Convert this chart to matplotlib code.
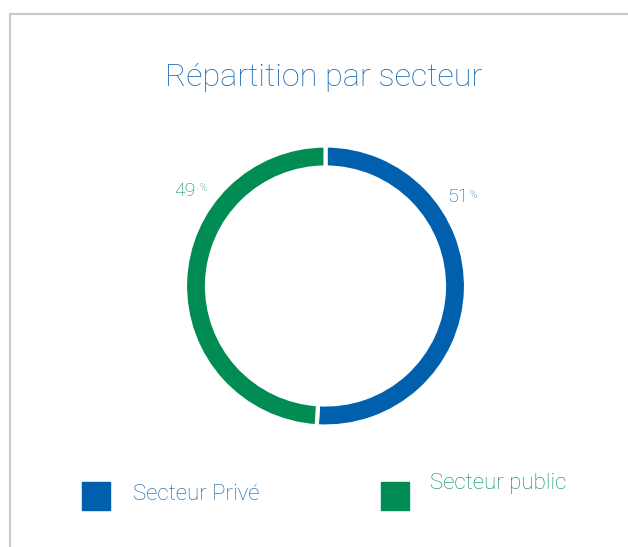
import matplotlib.pyplot as plt
from matplotlib.patches import Rectangle
from matplotlib.lines import Line2D

# data
sectors = ["Secteur Privé", "Secteur public"]
shares = [51, 49]
colors = ["#0060ae", "#008c53"]
title = "Répartition par secteur"

W, H = 628, 547
fig = plt.figure(figsize=(W / 100, H / 100), dpi=100)
fig.patch.set_facecolor("white")

# grey frame (top and left edges)
fig.add_artist(Line2D([10 / W, 1], [1 - 14 / H, 1 - 14 / H], color="#c8c8c8", lw=1.5))
fig.add_artist(Line2D([10 / W, 10 / W], [0, 1 - 14 / H], color="#c8c8c8", lw=1.5))

font = "Roboto"
weight = "light"

fig.text(324 / W, 1 - 77 / H, title, ha="center", va="center",
         fontsize=23.3, color="#1a6bb5", family=font, fontweight=weight)

# donut (white wedge edges eat ~2px on each side, so the ring is drawn a bit wider)
cx, cy, r = 325.5, 286, 140.5
ax = fig.add_axes([(cx - r) / W, 1 - (cy + r) / H, 2 * r / W, 2 * r / H])
ax.pie(shares, colors=colors, startangle=90, counterclock=False,
       wedgeprops=dict(width=22 / r, edgecolor="white", linewidth=3))
ax.set_xlim(-1, 1)
ax.set_ylim(-1, 1)
ax.set_aspect("equal")
ax.axis("off")

# percentage labels: (number x, number y, percent-sign x, percent-sign y)
label_pos = [(447, 197, 469, 195), (174, 191, 200, 188)]
for (x, y, px, py), v, c in zip(label_pos, shares, colors):
    fig.text(x / W, 1 - y / H, f"{v}", ha="left", va="center",
             fontsize=14, color=c, family=font, fontweight=weight)
    fig.text(px / W, 1 - py / H, "%", ha="left", va="center",
             fontsize=7, color=c, family=font, fontweight=weight)

# legend
leg_items = [(82, 133, 494), (381, 430, 483)]
for (sx, tx, ty), name, c in zip(leg_items, sectors, colors):
    fig.add_artist(Rectangle((sx / W, 1 - 510 / H), 28 / W, 28 / H,
                             transform=fig.transFigure, color=c))
    fig.text(tx / W, 1 - ty / H, name, ha="left", va="center",
             fontsize=16, color=c, family=font, fontweight=weight)

fig.savefig("out.png", dpi=100)
